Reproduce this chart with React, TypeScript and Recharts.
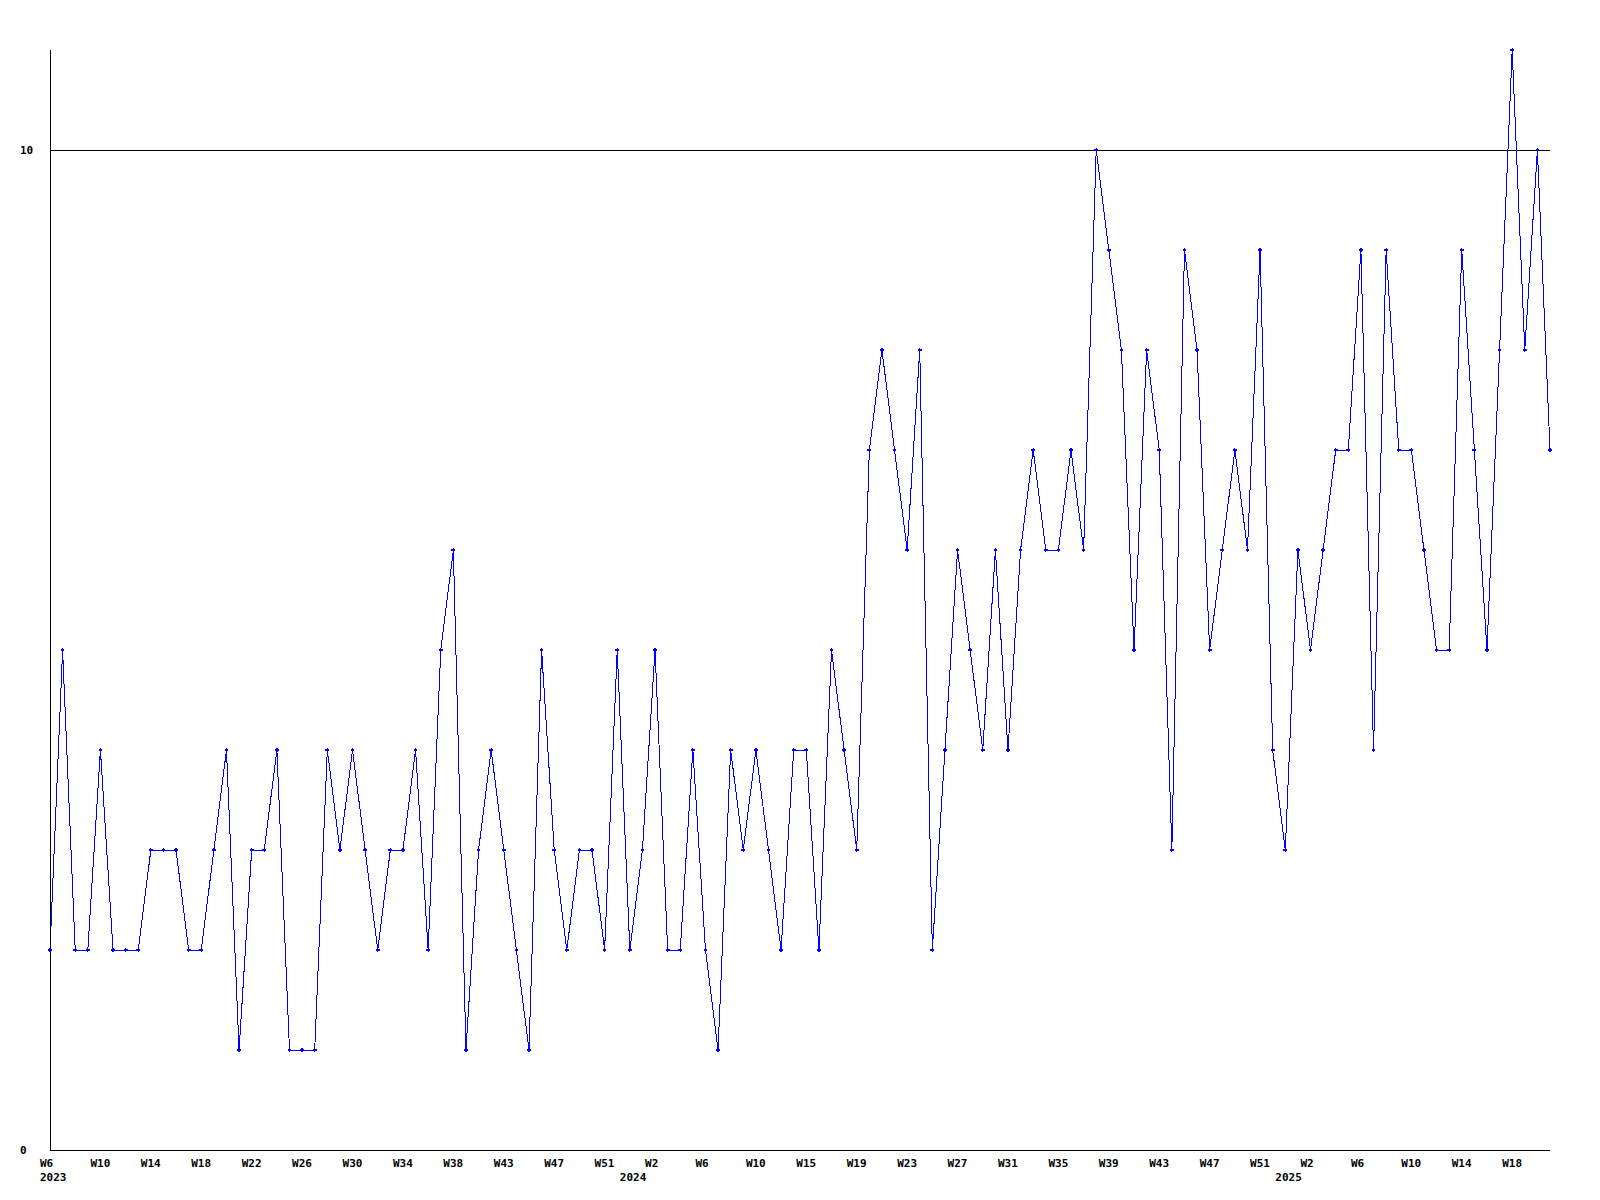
import React from 'react';
import { LineChart, Line, XAxis, YAxis, ReferenceLine } from 'recharts';

// weekly counts, 2023 W6 .. 2025 W21
const counts = [
  2, 5, 2, 2, 4, 2, 2, 2, 3, 3,
  3, 2, 2, 3, 4, 1, 3, 3, 4, 1,
  1, 1, 4, 3, 4, 3, 2, 3, 3, 4,
  2, 5, 6, 1, 3, 4, 3, 2, 1, 5,
  3, 2, 3, 3, 2, 5, 2, 3, 5, 2,
  2, 4, 2, 1, 4, 3, 4, 3, 2, 4,
  4, 2, 5, 4, 3, 7, 8, 7, 6, 8,
  2, 4, 6, 5, 4, 6, 4, 6, 7, 6,
  6, 7, 6, 10, 9, 8, 5, 8, 7, 3,
  9, 8, 5, 6, 7, 6, 9, 4, 3, 6,
  5, 6, 7, 7, 9, 4, 9, 7, 7, 6,
  5, 5, 9, 7, 5, 8, 11, 8, 10, 7,
];

// one label every 4th point
const weekLabels = [
  'W6', 'W10', 'W14', 'W18', 'W22', 'W26', 'W30', 'W34', 'W38', 'W43',
  'W47', 'W51', 'W2', 'W6', 'W10', 'W15', 'W19', 'W23', 'W27', 'W31',
  'W35', 'W39', 'W43', 'W47', 'W51', 'W2', 'W6', 'W10', 'W14', 'W18',
];
const weekStep = 4;

const yearLabels = ['2023', '2024', '2025'];
const yearStarts = [0, 46, 98];

const yTicks = [0, 10];

const data = counts.map((v, i) => ({ i, v }));

const weekTickIdx = weekLabels.map((_, k) => k * weekStep);
const allTicks = Array.from(new Set([...weekTickIdx, ...yearStarts])).sort((a, b) => a - b);

const FONT = '"DejaVu Sans Mono", monospace';

const XTick = (props: any) => {
  const { x, y, payload } = props;
  const idx = payload.value;
  const wk = weekTickIdx.indexOf(idx);
  const yr = yearStarts.indexOf(idx);
  return (
    <g>
      {wk >= 0 && (
        <text x={x - 10} y={y + 17} textAnchor="start" fontFamily={FONT} fontSize={11} fontWeight="bold" fill="#000">
          {weekLabels[wk]}
        </text>
      )}
      {yr >= 0 && (
        <text x={x - 10} y={y + 31} textAnchor="start" fontFamily={FONT} fontSize={11} fontWeight="bold" fill="#000">
          {yearLabels[yr]}
        </text>
      )}
    </g>
  );
};

const YTick = (props: any) => {
  const { x, y, payload } = props;
  return (
    <text x={x - 30} y={y + 4} textAnchor="start" fontFamily={FONT} fontSize={11} fontWeight="bold" fill="#000">
      {payload.value}
    </text>
  );
};

const Marker = (props: any) => {
  const { cx, cy } = props;
  if (cx == null || cy == null) return null;
  return (
    <polygon
      points={`${cx - 2.5},${cy} ${cx},${cy - 2} ${cx + 2.5},${cy} ${cx},${cy + 2}`}
      fill="#0000ff"
      shapeRendering="crispEdges"
    />
  );
};

export default function App() {
  return (
    <div style={{ position: 'absolute', left: 0, top: 0, width: 1600, height: 1200, background: '#fff' }}>
      <LineChart width={1600} height={1200} data={data} margin={{ top: 50, right: 50, left: 0, bottom: 0 }}>
        <XAxis
          type="number"
          dataKey="i"
          domain={[0, counts.length - 1]}
          ticks={allTicks}
          interval={0}
          tick={<XTick />}
          tickLine={false}
          tickSize={0}
          tickMargin={0}
          axisLine={{ stroke: '#000', strokeWidth: 1, shapeRendering: 'crispEdges' }}
          height={50}
        />
        <YAxis
          type="number"
          domain={[0, 11]}
          ticks={yTicks}
          interval={0}
          tick={<YTick />}
          tickLine={false}
          tickSize={0}
          tickMargin={0}
          axisLine={{ stroke: '#000', strokeWidth: 1, shapeRendering: 'crispEdges' }}
          width={50}
        />
        <ReferenceLine y={10} stroke="#000" strokeWidth={1} shapeRendering="crispEdges" />
        <Line
          type="linear"
          dataKey="v"
          stroke="#0000ff"
          strokeWidth={1}
          shapeRendering="crispEdges"
          dot={<Marker />}
          activeDot={false}
          isAnimationActive={false}
        />
      </LineChart>
    </div>
  );
}
